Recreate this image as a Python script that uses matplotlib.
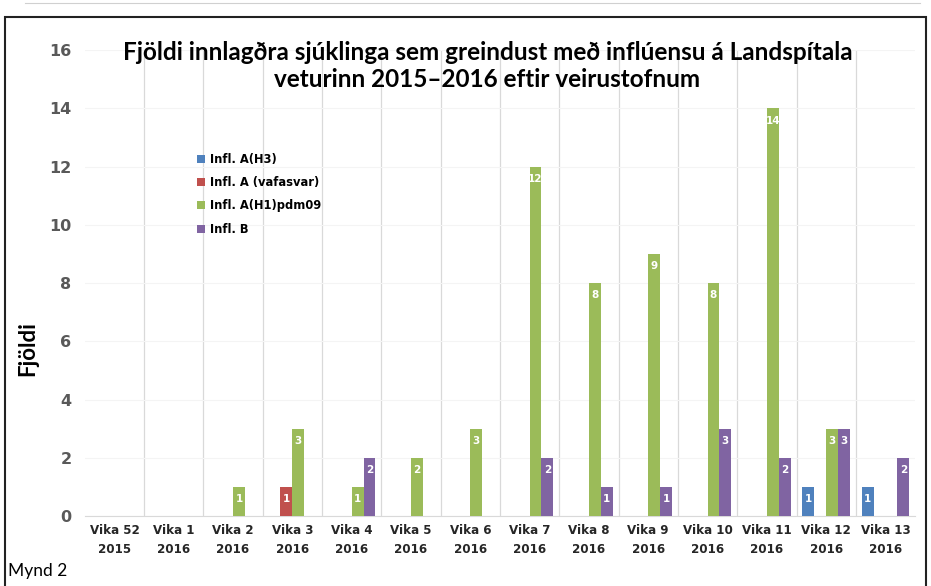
import numpy as np
import matplotlib
matplotlib.use('Agg')
from matplotlib import pyplot as plt
from matplotlib.lines import Line2D
from matplotlib.patches import Rectangle

weeks = ['Vika 52\n2015', 'Vika 1\n2016', 'Vika 2\n2016', 'Vika 3\n2016', 'Vika 4\n2016',
         'Vika 5\n2016', 'Vika 6\n2016', 'Vika 7\n2016', 'Vika 8\n2016', 'Vika 9\n2016',
         'Vika 10\n2016', 'Vika 11\n2016', 'Vika 12\n2016', 'Vika 13\n2016']
h3 = [0, 0, 0, 0, 0, 0, 0, 0, 0, 0, 0, 0, 1, 1]
vafasvar = [0, 0, 0, 1, 0, 0, 0, 0, 0, 0, 0, 0, 0, 0]
h1pdm = [0, 0, 1, 3, 1, 2, 3, 12, 8, 9, 8, 14, 3, 0]
inflb = [0, 0, 0, 0, 2, 0, 0, 2, 1, 1, 3, 2, 3, 2]
series = [('Infl. A(H3)', h3, '#4F81BD'),
          ('Infl. A (vafasvar)', vafasvar, '#C0504D'),
          ('Infl. A(H1)pdm09', h1pdm, '#9BBB59'),
          ('Infl. B', inflb, '#8064A2')]

fig = plt.figure(figsize=(9.31, 5.86), dpi=100)
ax = fig.add_axes([0.091, 0.1195, 0.892, 0.795])

x = np.arange(len(weeks))
w = 0.2
for i, (name, vals, col) in enumerate(series):
    pos = x + (i - 1.5) * w
    bars = ax.bar(pos, vals, w, color=col, label=name, zorder=3)
    for b, v in zip(bars, vals):
        if v > 0:
            ax.text(b.get_x() + b.get_width() / 2, v - 0.25, str(v), color='white',
                    ha='center', va='top', fontsize=7.5, fontweight='bold', zorder=4)

ax.set_xlim(-0.5, len(weeks) - 0.5)
ax.set_ylim(0, 16)
ax.set_yticks(range(0, 17, 2))
ax.set_xticks(x)
ax.set_xticklabels(weeks, fontsize=8.6, fontweight='bold', color='#262626', linespacing=1.55)
for lab in ax.get_yticklabels():
    lab.set_fontweight('bold')
ax.tick_params(axis='y', labelsize=11.5, labelcolor='#595959', length=0, pad=9.5)
ax.tick_params(axis='x', length=0, pad=6)
for b in np.arange(0.5, len(weeks) - 1, 1.0):
    ax.axvline(b, color='#d9d9d9', lw=0.9, zorder=1)
ax.grid(axis='y', color='#f4f4f4', lw=0.8, zorder=0)
for s in ['top', 'right', 'left']:
    ax.spines[s].set_visible(False)
ax.spines['bottom'].set_color('#d9d9d9')

ax.set_ylabel('Fjöldi', fontsize=16, fontweight='bold', family='Lato')
ax.yaxis.set_label_coords(-0.056, 0.36)
ax.text(0.485, 1.02, 'Fjöldi innlagðra sjúklinga sem greindust með inflúensu á Landspítala\n'
        'veturinn 2015\u20132016 eftir veirustofnum', transform=ax.transAxes,
        ha='center', va='top', fontsize=17.5, fontweight='bold', family='Lato',
        linespacing=1.2)

leg = ax.legend(loc='upper left', bbox_to_anchor=(0.123, 0.802), frameon=False,
                prop={'size': 8.3, 'weight': 'bold'}, handlelength=0.7, handleheight=0.7,
                handletextpad=0.4, labelspacing=0.9)

fig.text(0.009, 0.017, 'Mynd 2', fontsize=12.5, family='Lato')
fig.patches.append(Rectangle((0.0055, -0.05), 0.989, 1.021, transform=fig.transFigure,
                             fill=False, edgecolor='#222222', lw=1.5))
fig.lines.append(Line2D([0.027, 0.988], [0.995, 0.995], transform=fig.transFigure,
                        color='#d0d0d0', lw=0.8))

fig.savefig('out.png', dpi=100)
